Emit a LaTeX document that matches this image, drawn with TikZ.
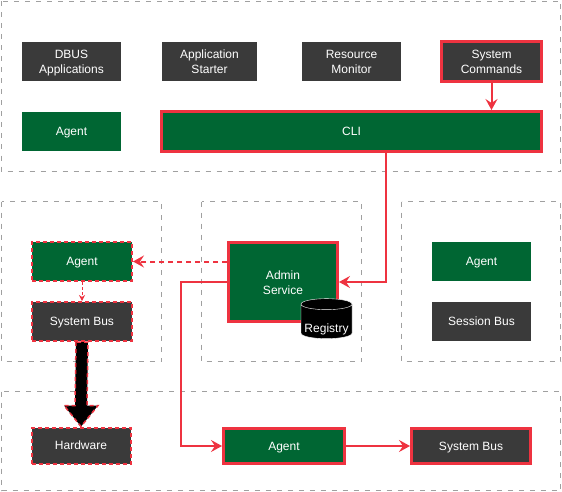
\documentclass[tikz,border=0pt]{standalone}
\usepackage{fontspec}
\setmainfont{Liberation Sans}
\usetikzlibrary{calc}
\usetikzlibrary{arrows.meta}
\usetikzlibrary{shapes.geometric}
\definecolor{agent-green}{RGB}{0, 102, 51}
\definecolor{box-gray}{RGB}{58, 58, 58}
\definecolor{link-red}{RGB}{238, 51, 64}
\definecolor{frame-gray}{RGB}{160, 160, 160}
\tikzset{
  box/.style={rectangle, text=white, align=center, inner sep=0pt,
              font=\fontsize{12}{14.5}\selectfont, text height=8.6pt, text depth=0.6pt},
  pair/.style={text height=24pt, text depth=0pt},
  gbox/.style={box, fill=agent-green},
  dbox/.style={box, fill=box-gray},
  hot/.style={draw=link-red, line width=3pt},
  soft/.style={draw=link-red, line width=2pt, dash pattern=on 4pt off 3pt},
  frame/.style={draw=frame-gray, line width=1.6pt, dash pattern=on 5pt off 6pt},
  link/.style={draw=link-red, line width=2pt, -{Stealth[length=11pt, width=12pt, inset=4pt]}},
}

\begin{document}
\begin{tikzpicture}[x=1pt, y=-1pt]
                \useasboundingbox (0,0) rectangle (562,492);
                % containers
                \draw[frame] (1.5,1.5) rectangle (560.5,171.5);
                \draw[frame] (1.5,201.5) rectangle (161.5,361.5);
                \draw[frame] (201.5,201.5) rectangle (361.5,361.5);
                \draw[frame] (401.5,201.5) rectangle (560.5,361.5);
                \draw[frame] (1.5,391.5) rectangle (560.5,490.5);
                % user space
                \node[dbox, pair, minimum width=99pt, minimum height=39pt] (dbus) at (71.5,61.5) {DBUS\\Applications};
                \node[dbox, pair, minimum width=95pt, minimum height=39pt] (appstart) at (209.5,61.5) {Application\\Starter};
                \node[dbox, pair, minimum width=99pt, minimum height=39pt] (resmon) at (351.5,61.5) {Resource\\Monitor};
                \node[dbox, pair, hot, minimum width=100pt, minimum height=40pt] (syscmd) at (491.5,61.5) {System\\Commands};
                \node[gbox, minimum width=99pt, minimum height=39pt] (agenttop) at (71.5,131.5) {Agent};
                \node[gbox, hot, minimum width=380pt, minimum height=40pt] (cli) at (351.5,131.5) {CLI};
                % middle row
                \node[gbox, soft, minimum width=100pt, minimum height=39pt] (agentl) at (82,261.5) {Agent};
                \node[dbox, soft, minimum width=100pt, minimum height=39pt] (sbusl) at (82,321.5) {System Bus};
                \node[gbox, pair, hot, minimum width=109pt, minimum height=79pt] (admin) at (283,282) {Admin\\Service};
                \node[cylinder, shape border rotate=90, aspect=0.25, draw=white, thin, fill=black,
                      text=white, font=\fontsize{12}{14}\selectfont, inner sep=0pt,
                      text height=21.4pt, text depth=0pt,
                      minimum width=51pt, minimum height=40pt] (registry) at (326.5,321.5) {Registry};
                \node[gbox, minimum width=99pt, minimum height=39pt] (agentr) at (481.5,261.5) {Agent};
                \node[dbox, minimum width=99pt, minimum height=39pt] (sessbus) at (481.5,321.5) {Session Bus};
                % bottom row
                \node[dbox, soft, minimum width=99pt, minimum height=36pt] (hw) at (81,445.5) {Hardware};
                \node[gbox, hot, minimum width=121pt, minimum height=35pt] (agentb) at (284,446) {Agent};
                \node[dbox, hot, minimum width=119pt, minimum height=35pt] (sbusb) at (471,446) {System Bus};
                % links
                \draw[link] (syscmd.south) -- (syscmd.south |- cli.north);
                \draw[link] ([xshift=34.5pt]cli.south) |- (admin.east);
                \draw[link, dash pattern=on 5pt off 4pt] (admin.west |- agentl.east) -- (agentl.east);
                \draw[link, line width=1pt, dash pattern=on 3pt off 2pt,
                      -{Stealth[length=6pt, width=6pt, inset=2pt]}] (agentl) -- (sbusl);
                \draw[link] (admin.west) -- ++(-46.5,0) |- (agentb.west);
                \draw[link] (agentb) -- (sbusb);
                \coordinate (hd) at ($(hw.north)+(0,-21)$);
                \filldraw[fill=black, draw=link-red, line width=1.5pt, dash pattern=on 4pt off 3pt]
                      ([xshift=-6pt]sbusl.south) -- ([xshift=-6pt]hd) -- ([xshift=-17pt]hd) -- (hw.north)
                      -- ([xshift=17pt]hd) -- ([xshift=6pt]hd) -- ([xshift=6pt]sbusl.south) -- cycle;
            \end{tikzpicture}
\end{document}
